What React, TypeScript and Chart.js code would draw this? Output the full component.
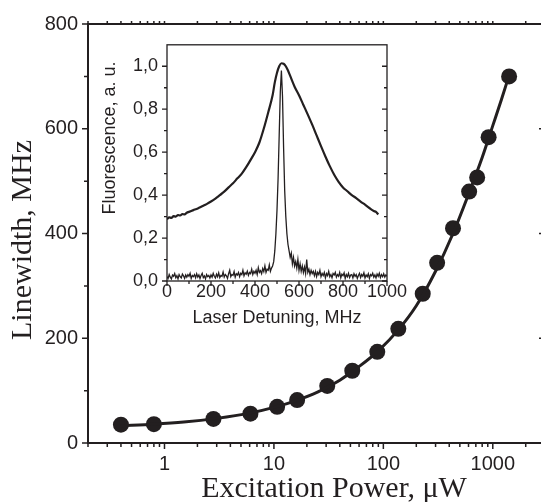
import React, { useEffect, useRef } from "react";
import { Chart, registerables } from "chart.js";

Chart.register(...registerables);

const INK = "#231f20";

// Main plot: measured linewidth vs excitation power
const powerUW = [0.4, 0.8, 2.8, 6.1, 10.7, 16.3, 30.7, 52, 88, 137, 229, 310, 433, 608, 720, 916, 1410];
const linewidthMHz = [35, 36, 46, 56, 69, 82, 109, 138, 174, 218, 285, 344, 410, 480, 507, 584, 700];

// Fit curve
const fitPower = [0.4, 0.8, 1.5, 3, 6, 10, 16, 25, 40, 60, 90, 137, 200, 300, 433, 608, 800, 1000, 1200, 1410];
const fitLinewidth = [33, 36, 40, 47, 57, 68, 81, 97, 120, 146, 176, 216, 262, 328, 400, 478, 545, 606, 656, 702];

const xMajorTicks = [1, 10, 100, 1000];
const yMainTicks = [0, 200, 400, 600, 800];
const yMainMinor = [100, 300, 500, 700];

// Inset: fluorescence spectra
const insetXTicks = [0, 200, 400, 600, 800, 1000];
const insetXMinor = [100, 300, 500, 700, 900];
const insetYTicks = [0, 0.2, 0.4, 0.6, 0.8, 1.0];
const insetYMinor = [0.1, 0.3, 0.5, 0.7, 0.9];
const insetYLabels = ["0,0", "0,2", "0,4", "0,6", "0,8", "1,0"];

const broadX = [0, 10, 20, 30, 40, 50, 60, 70, 80, 90, 100, 120, 140, 160, 180, 200, 220, 240, 260, 280, 300, 320, 340, 360, 380, 400, 420, 440, 460, 480, 490, 500, 510, 520, 530, 540, 550, 560, 580, 600, 620, 640, 660, 680, 700, 720, 740, 760, 780, 800, 820, 840, 860, 880, 900, 920, 940, 950, 960];
const broadY = [0.288, 0.296, 0.294, 0.302, 0.3, 0.307, 0.305, 0.312, 0.31, 0.318, 0.322, 0.33, 0.338, 0.348, 0.358, 0.37, 0.384, 0.4, 0.416, 0.436, 0.455, 0.478, 0.5, 0.53, 0.564, 0.6, 0.645, 0.71, 0.785, 0.865, 0.925, 0.97, 1.0, 1.014, 1.012, 1.0, 0.98, 0.955, 0.905, 0.865, 0.82, 0.775, 0.728, 0.678, 0.628, 0.58, 0.535, 0.495, 0.462, 0.436, 0.418, 0.4, 0.386, 0.37, 0.356, 0.34, 0.326, 0.322, 0.31];

const narrowX = [
  0, 5, 10, 15, 20, 25, 30, 35, 40, 45, 50, 55, 60, 65, 70, 75, 80, 85, 90, 95,
  100, 105, 110, 115, 120, 125, 130, 135, 140, 145, 150, 155, 160, 165, 170, 175, 180, 185, 190, 195,
  200, 205, 210, 215, 220, 225, 230, 235, 240, 245, 250, 255, 260, 265, 270, 275, 280, 285, 290, 295,
  300, 305, 310, 315, 320, 325, 330, 335, 340, 345, 350, 355, 360, 365, 370, 375, 380, 385, 390, 395,
  400, 405, 410, 415, 420, 425, 430, 435, 440, 445, 450, 455, 460, 465, 470, 475, 480, 485,
  490, 495, 500, 505, 510, 515, 520, 525, 530, 535, 540, 545, 550, 555, 560, 565,
  570, 575, 580, 585, 590, 595, 600, 605, 610, 615, 620, 625, 630, 635, 640, 645, 650, 655, 660, 665,
  670, 675, 680, 685, 690, 695, 700, 705, 710, 715, 720, 725, 730, 735, 740, 745, 750, 755, 760, 765,
  770, 775, 780, 785, 790, 795, 800, 805, 810, 815, 820, 825, 830, 835, 840, 845, 850, 855, 860, 865,
  870, 875, 880, 885, 890, 895, 900, 905, 910, 915, 920, 925, 930, 935, 940, 945, 950, 955, 960, 965,
  970, 975, 980, 985, 990, 995, 1000,
];
const narrowY = [
  0.02, 0.012, 0.03, 0.018, 0.01, 0.028, 0.022, 0.035, 0.015, 0.025, 0.01, 0.03, 0.02, 0.014, 0.032, 0.024, 0.012, 0.028, 0.018, 0.03,
  0.022, 0.036, 0.012, 0.026, 0.02, 0.03, 0.015, 0.034, 0.018, 0.028, 0.012, 0.026, 0.036, 0.016, 0.024, 0.01, 0.03, 0.02, 0.026, 0.014,
  0.028, 0.018, 0.036, 0.022, 0.014, 0.032, 0.02, 0.038, 0.016, 0.026, 0.022, 0.042, 0.018, 0.03, 0.024, 0.012, 0.034, 0.05, 0.02, 0.03,
  0.026, 0.044, 0.018, 0.034, 0.028, 0.04, 0.02, 0.036, 0.03, 0.05, 0.024, 0.038, 0.032, 0.046, 0.026, 0.04, 0.034, 0.055, 0.03, 0.045,
  0.036, 0.05, 0.03, 0.062, 0.04, 0.048, 0.034, 0.058, 0.044, 0.07, 0.04, 0.055, 0.05, 0.075, 0.045, 0.06, 0.07, 0.09,
  0.14, 0.22, 0.33, 0.48, 0.68, 0.88, 0.98, 0.86, 0.62, 0.42, 0.3, 0.22, 0.17, 0.14, 0.11, 0.13,
  0.08, 0.11, 0.07, 0.09, 0.06, 0.1, 0.05, 0.08, 0.045, 0.07, 0.04, 0.065, 0.035, 0.1, 0.04, 0.055, 0.03, 0.05, 0.035, 0.045,
  0.025, 0.045, 0.02, 0.04, 0.03, 0.05, 0.02, 0.035, 0.025, 0.04, 0.015, 0.035, 0.025, 0.045, 0.02, 0.03, 0.015, 0.035, 0.028, 0.04,
  0.018, 0.03, 0.022, 0.04, 0.015, 0.032, 0.025, 0.038, 0.012, 0.03, 0.02, 0.036, 0.016, 0.028, 0.03, 0.014, 0.034, 0.022, 0.03, 0.012,
  0.026, 0.036, 0.016, 0.03, 0.022, 0.038, 0.014, 0.028, 0.02, 0.034, 0.012, 0.03, 0.024, 0.036, 0.018, 0.028, 0.014, 0.032, 0.022, 0.036,
  0.016, 0.03, 0.02, 0.034, 0.018, 0.028, 0.022,
];

function logTicks(min: number, max: number) {
  const out: { v: number; major: boolean }[] = [];
  for (let k = -2; k <= 4; k++) {
    for (let m = 1; m <= 9; m++) {
      const v = m * Math.pow(10, k);
      if (v >= min * 0.999 && v <= max * 1.001) out.push({ v, major: m === 1 });
    }
  }
  return out;
}

const mainFrame = {
  id: "mainFrame",
  afterDraw(chart: any) {
    const { ctx, chartArea: a, scales } = chart;
    const x = scales.x;
    const y = scales.y;
    ctx.save();
    ctx.strokeStyle = INK;
    ctx.lineWidth = 2;
    ctx.strokeRect(a.left, a.top, a.right - a.left, a.bottom - a.top);
    ctx.lineWidth = 1.5;
    ctx.beginPath();
    for (const v of yMainTicks) {
      const py = y.getPixelForValue(v);
      ctx.moveTo(a.left, py); ctx.lineTo(a.left - 6, py);
      ctx.moveTo(a.right, py); ctx.lineTo(a.right - 6, py);
    }
    for (const v of yMainMinor) {
      const py = y.getPixelForValue(v);
      ctx.moveTo(a.left, py); ctx.lineTo(a.left - 4, py);
      ctx.moveTo(a.right, py); ctx.lineTo(a.right - 3, py);
    }
    for (const t of logTicks(x.min, x.max)) {
      const px = x.getPixelForValue(t.v);
      ctx.moveTo(px, a.bottom); ctx.lineTo(px, a.bottom + (t.major ? 6 : 4));
      ctx.moveTo(px, a.top); ctx.lineTo(px, a.top - 3);
    }
    ctx.stroke();
    ctx.fillStyle = INK;
    ctx.font = '30px "Liberation Serif"';
    ctx.textAlign = "center";
    ctx.textBaseline = "middle";
    ctx.fillText("Excitation Power, \u03bcW", 334, 489);
    ctx.save();
    ctx.translate(23, 240);
    ctx.rotate(-Math.PI / 2);
    ctx.fillText("Linewidth, MHz", 0, 0);
    ctx.restore();
    ctx.restore();
  },
};

const insetFrame = {
  id: "insetFrame",
  afterDraw(chart: any) {
    const { ctx, chartArea: a, scales } = chart;
    const x = scales.x;
    const y = scales.y;
    ctx.save();
    ctx.strokeStyle = INK;
    ctx.lineWidth = 1.3;
    ctx.strokeRect(a.left, a.top, a.right - a.left, a.bottom - a.top);
    ctx.beginPath();
    for (const v of insetYTicks) {
      const py = y.getPixelForValue(v);
      ctx.moveTo(a.left, py); ctx.lineTo(a.left - 5, py);
      ctx.moveTo(a.right, py); ctx.lineTo(a.right - 5, py);
    }
    for (const v of insetYMinor) {
      const py = y.getPixelForValue(v);
      ctx.moveTo(a.left, py); ctx.lineTo(a.left - 3, py);
      ctx.moveTo(a.right, py); ctx.lineTo(a.right - 3, py);
    }
    for (const v of insetXTicks) {
      const px = x.getPixelForValue(v);
      ctx.moveTo(px, a.bottom); ctx.lineTo(px, a.bottom + 5);
    }
    for (const v of insetXMinor) {
      const px = x.getPixelForValue(v);
      ctx.moveTo(px, a.bottom); ctx.lineTo(px, a.bottom + 3);
    }
    ctx.stroke();
    ctx.fillStyle = INK;
    ctx.font = '18px "Liberation Sans"';
    ctx.textAlign = "center";
    ctx.textBaseline = "middle";
    ctx.fillText("Laser Detuning, MHz", (a.left + a.right) / 2, a.bottom + 37);
    ctx.save();
    ctx.translate(20, 113);
    ctx.rotate(-Math.PI / 2);
    ctx.fillText("Fluorescence, a. u.", 0, 0);
    ctx.restore();
    ctx.restore();
  },
};

export default function App() {
  const mainRef = useRef<HTMLCanvasElement | null>(null);
  const insetRef = useRef<HTMLCanvasElement | null>(null);

  useEffect(() => {
    const main = new Chart(mainRef.current as HTMLCanvasElement, {
      type: "scatter",
      data: {
        datasets: [
          {
            data: fitPower.map((p, i) => ({ x: p, y: fitLinewidth[i] })),
            showLine: true,
            borderColor: INK,
            borderWidth: 3,
            pointRadius: 0,
            cubicInterpolationMode: "monotone",
          },
          {
            data: powerUW.map((p, i) => ({ x: p, y: linewidthMHz[i] })),
            showLine: false,
            backgroundColor: INK,
            borderColor: INK,
            borderWidth: 0,
            pointRadius: 8,
          },
        ],
      } as any,
      options: {
        animation: false,
        responsive: false,
        events: [],
        layout: { padding: { top: 24, right: 15, left: 0, bottom: 0 } },
        plugins: { legend: { display: false }, tooltip: { enabled: false } },
        scales: {
          x: {
            type: "logarithmic",
            min: 0.2,
            max: 3000,
            grid: { display: false, drawTicks: false },
            border: { display: false },
            afterBuildTicks: (s: any) => { s.ticks = xMajorTicks.map((v) => ({ value: v })); },
            afterFit: (s: any) => { s.height = 59; },
            ticks: {
              autoSkip: false,
              maxRotation: 0,
              padding: 9,
              color: INK,
              font: { family: "Liberation Sans", size: 20 },
              callback: (v: any) => String(v),
            },
          },
          y: {
            type: "linear",
            min: 0,
            max: 800,
            grid: { display: false, drawTicks: false },
            border: { display: false },
            afterBuildTicks: (s: any) => { s.ticks = yMainTicks.map((v) => ({ value: v })); },
            afterFit: (s: any) => { s.width = 88; },
            ticks: {
              padding: 10,
              color: INK,
              font: { family: "Liberation Sans", size: 20 },
              callback: (v: any) => String(v),
            },
          },
        },
      } as any,
      plugins: [mainFrame],
    });

    const inset = new Chart(insetRef.current as HTMLCanvasElement, {
      type: "scatter",
      data: {
        datasets: [
          {
            data: broadX.map((v, i) => ({ x: v, y: broadY[i] })),
            showLine: true,
            borderColor: INK,
            borderWidth: 2.2,
            pointRadius: 0,
            cubicInterpolationMode: "monotone",
          },
          {
            data: narrowX.map((v, i) => ({ x: v, y: narrowY[i] })),
            showLine: true,
            borderColor: INK,
            borderWidth: 1.3,
            pointRadius: 0,
          },
        ],
      } as any,
      options: {
        animation: false,
        responsive: false,
        events: [],
        layout: { padding: { top: 10, right: 23, left: 0, bottom: 0 } },
        plugins: { legend: { display: false }, tooltip: { enabled: false } },
        scales: {
          x: {
            type: "linear",
            min: 0,
            max: 1000,
            grid: { display: false, drawTicks: false },
            border: { display: false },
            afterBuildTicks: (s: any) => { s.ticks = insetXTicks.map((v) => ({ value: v })); },
            afterFit: (s: any) => { s.height = 54; },
            ticks: {
              autoSkip: false,
              maxRotation: 0,
              padding: 2,
              color: INK,
              font: { family: "Liberation Sans", size: 18, lineHeight: 1 },
              callback: (v: any) => String(v),
            },
          },
          y: {
            type: "linear",
            min: 0,
            max: 1.1,
            grid: { display: false, drawTicks: false },
            border: { display: false },
            afterBuildTicks: (s: any) => { s.ticks = insetYTicks.map((v) => ({ value: v })); },
            afterFit: (s: any) => { s.width = 77; },
            ticks: {
              padding: 9,
              color: INK,
              font: { family: "Liberation Sans", size: 18 },
              callback: (_v: any, i: number) => insetYLabels[i],
            },
          },
        },
      } as any,
      plugins: [insetFrame],
    });

    return () => {
      main.destroy();
      inset.destroy();
    };
  }, []);

  return (
    <div style={{ position: "fixed", left: 0, top: 0, width: 541, height: 502, overflow: "hidden", background: "#fff" }}>
      <canvas ref={mainRef} width={560} height={502} style={{ position: "absolute", left: 0, top: 0 }} />
      <canvas ref={insetRef} width={320} height={310} style={{ position: "absolute", left: 90, top: 25 }} />
    </div>
  );
}
